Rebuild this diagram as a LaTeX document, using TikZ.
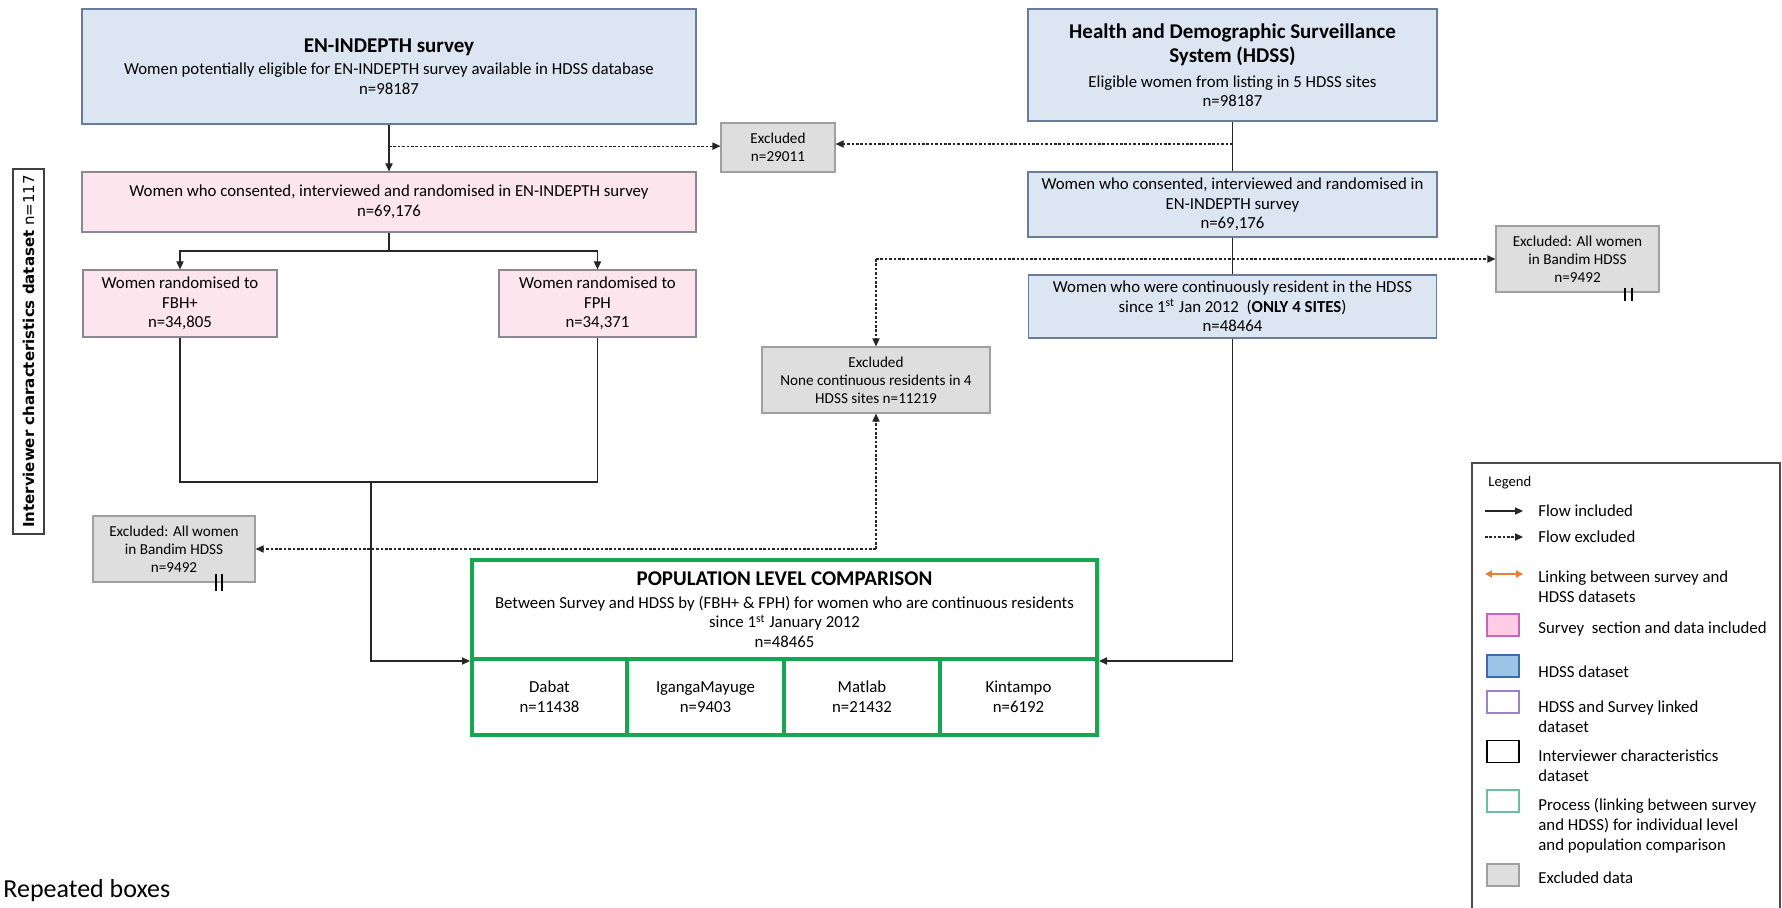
\documentclass[tikz,border=0pt]{standalone}
\usepackage{fontspec}
\setmainfont{Carlito}
\newfontfamily\dejavu{DejaVu Sans}
\usepackage{tikz}
\usetikzlibrary{arrows.meta,calc}

\definecolor{hdssfill}{RGB}{220,230,243}
\definecolor{hdssline}{RGB}{105,125,155}
\definecolor{survfill}{RGB}{252,229,236}
\definecolor{survline}{RGB}{140,135,145}
\definecolor{exclfill}{RGB}{222,222,222}
\definecolor{exclline}{RGB}{160,160,160}
\definecolor{popgreen}{RGB}{22,166,82}
\definecolor{linkorange}{RGB}{237,125,49}
\definecolor{keysurvfill}{RGB}{255,204,229}
\definecolor{keysurvline}{RGB}{200,100,190}
\definecolor{keyhdssfill}{RGB}{157,195,230}
\definecolor{keyhdssline}{RGB}{65,105,165}
\definecolor{keylinkline}{RGB}{160,130,200}
\definecolor{keyprocline}{RGB}{110,190,160}

\newcommand{\boxhead}[1]{{\fontsize{10.5}{12}\selectfont\bfseries #1}}

\begin{document}
\begin{tikzpicture}[x=0.5pt, y=-0.5pt,
    flowbox/.style={draw, line width=0.6pt, align=center, inner sep=0pt, font=\fontsize{8.4}{9.8}\selectfont},
    hdssbx/.style={flowbox, draw=hdssline, fill=hdssfill},
    survbx/.style={flowbox, draw=survline, fill=survfill},
    exclbx/.style={flowbox, draw=exclline, fill=exclfill, font=\fontsize{7.6}{9}\selectfont},
    popbx/.style={flowbox, draw=popgreen, line width=2pt},
    flow/.style={draw=black!85, line width=0.6pt, -{Triangle[length=4pt,width=3.6pt]}},
    plainflow/.style={draw=black!85, line width=0.6pt},
    exflow/.style={flow, dash pattern=on 1.3pt off 0.9pt},
    keybx/.style={draw, line width=0.6pt, minimum width=16pt, minimum height=11pt, inner sep=0pt},
    keytext/.style={anchor=west, align=left, inner sep=0pt, font=\fontsize{8.4}{10}\selectfont},
    breakmark/.style={line width=0.9pt}]

    \useasboundingbox (0,0) rectangle (1782,908);
    \clip (0,0) rectangle (1782,908);
    \fill[white] (0,0) rectangle (1782,908);

    % --- Survey side ---
    \node[hdssbx, minimum width=307pt, minimum height=57.5pt] (enbox) at (389,66.5)
        {\boxhead{EN-INDEPTH survey}\\[1.2pt]
         Women potentially eligible for EN-INDEPTH survey available in HDSS database\\
         n=98187};
    \node[survbx, minimum width=307pt, minimum height=30pt] (consent) at (389,202)
        {Women who consented, interviewed and randomised in EN-INDEPTH survey\\ n=69,176};
    \node[survbx, minimum width=97pt, minimum height=33.5pt] (fbh) at (180,303.5)
        {Women randomised to\\ FBH+\\ n=34,805};
    \node[survbx, minimum width=98.5pt, minimum height=33.5pt] (fph) at (597.5,303.5)
        {Women randomised to\\ FPH\\ n=34,371};

    % --- HDSS side ---
    \node[hdssbx, minimum width=204.5pt, minimum height=56pt] (hdssbox) at (1232.5,65)
        {\boxhead{Health and Demographic Surveillance}\\[2.7pt]
         \boxhead{System (HDSS)}\\[2.2pt]
         Eligible women from listing in 5 HDSS sites\\
         n=98187};
    \node[hdssbx, minimum width=204.5pt, minimum height=32.5pt] (hdssconsent) at (1232.5,204.5)
        {Women who consented, interviewed and randomised in\\ EN-INDEPTH survey\\ n=69,176};
    \node[hdssbx, minimum width=204pt, minimum height=31.5pt] (resident) at (1232.5,306.5)
        {Women who were continuously resident in the HDSS\\
         since 1\textsuperscript{st} Jan 2012\ \ (\textbf{ONLY 4 SITES})\\ n=48464};

    % --- Excluded ---
    \node[exclbx, minimum width=57pt, minimum height=24.5pt] (excl1) at (778,147.5)
        {Excluded\\ n=29011};
    \node[exclbx, minimum width=81.5pt, minimum height=33pt] (bandimR) at (1577.5,259)
        {Excluded: All women\\ in Bandim HDSS\\ n=9492};
    \node[exclbx, minimum width=114pt, minimum height=33pt] (exclnone) at (876,380)
        {Excluded\\ None continuous residents in 4\\ HDSS sites n=11219};
    \node[exclbx, minimum width=81pt, minimum height=33pt] (bandimL) at (174,549)
        {Excluded: All women\\ in Bandim HDSS\\ n=9492};

    \node[draw=black!75, line width=0.6pt, rotate=90, minimum width=182.5pt, minimum height=15.5pt,
          inner sep=0pt, font=\dejavu\fontsize{7.5}{9}\selectfont] (iviewer) at (28.5,351.5)
        {\textbf{Interviewer characteristics dataset} n=117};

    % --- Population level comparison ---
    \node[popbx, minimum width=312.5pt, minimum height=49.5pt] (popbox) at (784.5,609.5)
        {\boxhead{POPULATION LEVEL COMPARISON}\\[1.7pt]
         Between Survey and HDSS by (FBH+ \& FPH) for women who are continuous residents\\
         since 1\textsuperscript{st} January 2012\\
         n=48465};
    \node[popbx, minimum width=77.5pt, minimum height=38pt] (dabat) at (549.5,697) {Dabat\\ n=11438};
    \node[popbx, minimum width=78.5pt, minimum height=38pt] (iganga) at (705.5,697) {IgangaMayuge\\ n=9403};
    \node[popbx, minimum width=78pt, minimum height=38pt] (matlab) at (862,697) {Matlab\\ n=21432};
    \node[popbx, minimum width=78.5pt, minimum height=38pt] (kintampo) at (1018.5,697) {Kintampo\\ n=6192};

    % --- Connectors ---
    \draw[flow] (enbox.south) -- (consent.north);
    \coordinate (ensplit) at ($(enbox.south)!0.46!(consent.north)$);
    \draw[exflow] (ensplit) -- (ensplit -| excl1.west);

    \draw[plainflow] (hdssbox.south) -- (hdssconsent.north);
    \coordinate (hdsssplit) at ($(hdssbox.south)!0.45!(hdssconsent.north)$);
    \draw[exflow] (hdsssplit) -- (hdsssplit -| excl1.east);

    \coordinate (branch) at ($(consent.south)!0.5!(consent.south |- fbh.north)$);
    \draw[plainflow] (consent.south) -- (branch);
    \draw[flow] (branch) -| (fbh.north);
    \draw[flow] (branch) -| (fph.north);

    \draw[plainflow] (hdssconsent.south) -- (resident.north);
    \coordinate (ressplit) at (exclnone.north |- bandimR.west);
    \draw[exflow] (ressplit) -- (bandimR.west);
    \draw[exflow] (ressplit) -- (exclnone.north);

    \coordinate (joinL) at (fbh.south |- 0,482);
    \coordinate (joinR) at (fph.south |- 0,482);
    \coordinate (joinM) at (371,482);
    \draw[plainflow] (fbh.south) -- (joinL) -- (joinR) -- (fph.south);
    \draw[flow] (joinM) |- (popbox.south west);
    \draw[flow] (resident.south) |- (popbox.south east);

    \coordinate (nonesplit) at (exclnone.south |- bandimL.east);
    \draw[exflow] (nonesplit) -- (exclnone.south);
    \draw[exflow] (nonesplit) -- (bandimL.east);

    % repeated box marks
    \draw[breakmark] ($(bandimL.south east)+(-40,-9)$) -- ++(0,17);
    \draw[breakmark] ($(bandimL.south east)+(-34,-9)$) -- ++(0,17);
    \draw[breakmark] ($(bandimR.south east)+(-35,-5)$) -- ++(0,13);
    \draw[breakmark] ($(bandimR.south east)+(-28,-5)$) -- ++(0,13);

    \node[anchor=base west, inner sep=0pt, font=\fontsize{13}{15}\selectfont] (repeated) at (3,897) {Repeated boxes};

    % --- Legend ---
    \draw[black!70, line width=0.6pt] (1472,463) rectangle (1780,940);
    \node[anchor=west, inner sep=0pt, font=\fontsize{7.3}{9}\selectfont] (legendhead) at (1488,483) {Legend};

    \coordinate (kin1) at (1485,511);
    \coordinate (kin2) at (1523,511);
    \draw[flow] (kin1) -- (kin2);
    \node[keytext] (kintext) at (1538,511) {Flow included};

    \coordinate (kex1) at (1485,537);
    \coordinate (kex2) at (1523,537);
    \draw[exflow] (kex1) -- (kex2);
    \node[keytext] (kextext) at (1538,537) {Flow excluded};

    \coordinate (klink1) at (1485,574);
    \coordinate (klink2) at (1523,574);
    \draw[linkorange, line width=0.9pt, {Triangle[length=3.5pt,width=3.5pt]}-{Triangle[length=3.5pt,width=3.5pt]}] (klink1) -- (klink2);
    \node[keytext] (klinktext) at (1538,587) {Linking between survey and\\ HDSS datasets};

    \node[keybx, draw=keysurvline, fill=keysurvfill] (ksurv) at (1503,625) {};
    \node[keytext] (ksurvtext) at (1538,629) {Survey\ \ section and data included};

    \node[keybx, draw=keyhdssline, fill=keyhdssfill] (khdss) at (1503,666) {};
    \node[keytext] (khdsstext) at (1538,672) {HDSS dataset};

    \node[keybx, draw=keylinkline, fill=white] (klinked) at (1503,702) {};
    \node[keytext] (klinkedtext) at (1538,716.5) {HDSS and Survey linked\\ dataset};

    \node[keybx, draw=black] (kiview) at (1503,751.5) {};
    \node[keytext] (kiviewtext) at (1538,765.5) {Interviewer characteristics\\ dataset};

    \node[keybx, draw=keyprocline, fill=white] (kproc) at (1503,801) {};
    \node[keytext] (kproctext) at (1538,826) {Process (linking between survey\\ and HDSS) for individual level\\ and population comparison};

    \node[keybx, draw=exclline, fill=exclfill] (kexcl) at (1503,875) {};
    \node[keytext] (kexcltext) at (1538,878) {Excluded data};

\end{tikzpicture}
\end{document}
